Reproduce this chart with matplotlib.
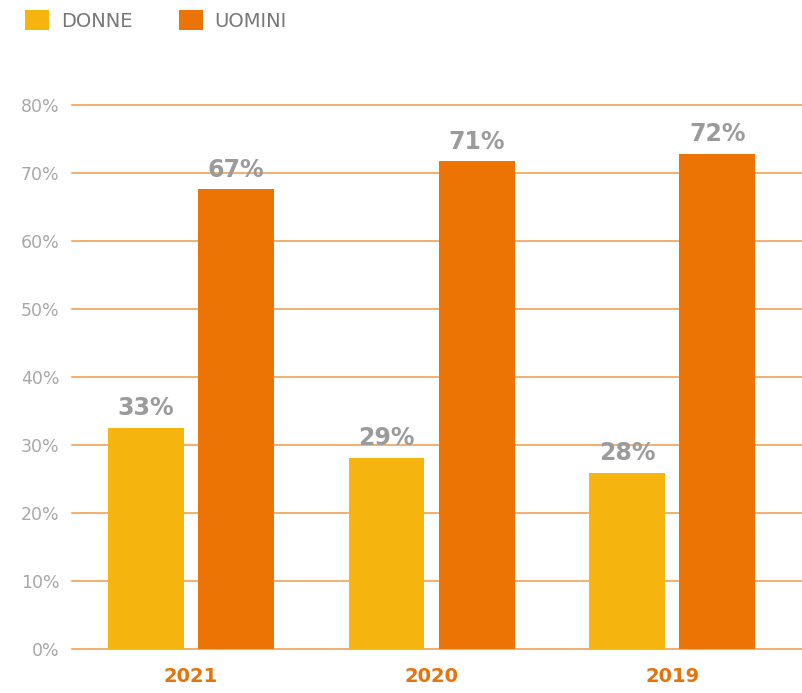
import matplotlib
matplotlib.use("Agg")
import matplotlib.pyplot as plt
import numpy as np

years = ["2021", "2020", "2019"]
donne = [32.5, 28.1, 25.9]
uomini = [67.6, 71.7, 72.8]
donne_labels = ["33%", "29%", "28%"]
uomini_labels = ["67%", "71%", "72%"]
yticks = [0, 10, 20, 30, 40, 50, 60, 70, 80]

C_DONNE = "#F6B40E"
C_UOMINI = "#EC7404"
GRID = "#F39A48"

W, H = 802, 693
fig = plt.figure(figsize=(W / 100, H / 100), dpi=100)
ax = fig.add_axes([72 / W, (H - 649) / H, (802 - 72) / W, (649 - 104.7) / H])

x = np.arange(len(years))
bw = 0.315
off = 0.187
b1 = ax.bar(x - off, donne, bw, color=C_DONNE, label="DONNE", zorder=3)
b2 = ax.bar(x + off, uomini, bw, color=C_UOMINI, label="UOMINI", zorder=3)

for rects, labs in ((b1, donne_labels), (b2, uomini_labels)):
    for r, lab in zip(rects, labs):
        ax.annotate(lab, (r.get_x() + r.get_width() / 2, r.get_height()),
                    xytext=(0, 14), textcoords="offset points",
                    ha="center", va="center", fontsize=17, fontweight="heavy",
                    color="#9B9B9B", zorder=4)

ax.set_xlim(-0.494, 2.539)
ax.set_ylim(0, 80)
ax.set_yticks(yticks)
ax.set_yticklabels([f"{v}%" for v in yticks])
ax.set_xticks(x)
ax.set_xticklabels(years)
ax.yaxis.grid(True, color=GRID, linewidth=1.1, zorder=0)
ax.set_axisbelow(True)
for gl in ax.get_ygridlines():
    gl.set_clip_on(False)
for s in ax.spines.values():
    s.set_visible(False)
ax.tick_params(axis="y", length=0, pad=9, labelsize=12.5, labelcolor="#A8A8A8")
ax.tick_params(axis="x", length=0, pad=13, labelsize=14, labelcolor="#E8720C")
for t in ax.get_xticklabels():
    t.set_fontweight("bold")

fig.legend(handles=[b1, b2], labels=["DONNE", "UOMINI"], loc="upper left",
           bbox_to_anchor=(25 / W, 1 - 10 / H), ncol=2, frameon=False,
           fontsize=14, labelcolor="#777777", handlelength=1.24, handleheight=1.24,
           handletextpad=0.6, columnspacing=2.4, borderpad=0, borderaxespad=0)

fig.savefig("out.png", dpi=100)
